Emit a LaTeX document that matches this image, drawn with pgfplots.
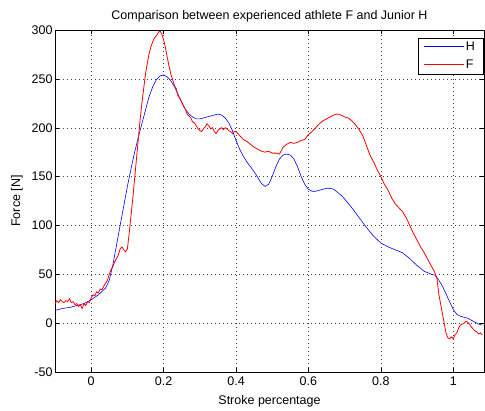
\documentclass[border=0pt]{standalone}
\usepackage{fontspec}
\setmainfont{Liberation Sans}
\usepackage{pgfplots}
\pgfplotsset{compat=1.18}

\pgfplotstableread{
x y
-0.10 13
-0.08 15
-0.06 16
-0.04 18
-0.02 20
0.00 24
0.02 29
0.04 36
0.05 44
0.06 60
0.07 80
0.08 100
0.09 120
0.10 140
0.11 158
0.12 175
0.13 190
0.14 204
0.15 218
0.16 232
0.17 242
0.18 249
0.19 253
0.20 254
0.21 252
0.22 248
0.23 242
0.24 234
0.25 226
0.26 219
0.27 214
0.28 211
0.29 209
0.30 209
0.31 210
0.32 211
0.33 212
0.34 213
0.35 214
0.36 213
0.37 210
0.38 205
0.39 197
0.40 187
0.41 178
0.42 171
0.43 165
0.44 160
0.45 155
0.46 149
0.47 143
0.48 140
0.49 142
0.50 150
0.51 160
0.52 168
0.53 172
0.54 173
0.55 172
0.56 168
0.57 160
0.58 150
0.59 142
0.60 137
0.61 135
0.62 135
0.63 136
0.64 137
0.65 138
0.66 138
0.67 137
0.68 134
0.69 131
0.70 127
0.72 118
0.74 108
0.76 98
0.78 89
0.80 82
0.82 78
0.84 75
0.86 72
0.88 66
0.90 59
0.92 53
0.94 50
0.95 49
0.96 44
0.97 38
0.98 30
0.99 22
1.00 14
1.01 9
1.02 7
1.03 6
1.04 5
1.05 3
1.06 1
1.07 -1
1.08 -2
}\athleteH

\pgfplotstableread{
x y
-0.100 20
-0.095 23
-0.090 21
-0.085 24
-0.080 22
-0.075 21
-0.070 23
-0.065 22
-0.060 25
-0.055 21
-0.050 22
-0.045 19
-0.040 20
-0.035 17
-0.030 19
-0.025 15
-0.020 20
-0.015 18
-0.010 22
-0.005 21
0.000 26
0.005 29
0.010 28
0.015 32
0.020 31
0.025 35
0.030 34
0.035 38
0.040 41
0.045 44
0.050 50
0.055 55
0.060 58
0.065 63
0.070 66
0.075 70
0.080 76
0.085 78
0.090 75
0.095 73
0.100 76
0.105 92
0.110 110
0.115 128
0.120 148
0.125 168
0.130 188
0.135 208
0.140 225
0.145 240
0.150 255
0.155 266
0.160 276
0.165 283
0.170 288
0.175 292
0.180 294
0.185 297
0.190 299
0.195 296
0.200 290
0.205 282
0.210 272
0.215 263
0.220 255
0.225 249
0.230 243
0.235 240
0.240 232
0.245 230
0.250 226
0.255 222
0.260 219
0.265 214
0.270 212
0.275 210
0.280 206
0.285 205
0.290 202
0.295 199
0.300 197
0.305 196
0.310 199
0.315 201
0.320 204
0.325 202
0.330 199
0.335 200
0.340 196
0.345 194
0.350 197
0.355 199
0.360 200
0.365 198
0.370 200
0.375 199
0.380 197
0.385 196
0.390 194
0.395 196
0.400 196
0.410 192
0.420 188
0.430 186
0.440 183
0.450 180
0.460 178
0.470 176
0.480 175
0.490 176
0.500 174
0.510 174
0.520 173
0.530 180
0.540 183
0.550 185
0.560 184
0.570 185
0.580 187
0.590 188
0.600 193
0.610 196
0.620 200
0.630 204
0.640 207
0.650 209
0.660 211
0.670 213
0.680 214
0.690 213
0.700 211
0.710 210
0.720 207
0.730 203
0.740 198
0.750 192
0.760 182
0.770 172
0.780 165
0.790 157
0.800 150
0.810 142
0.820 136
0.830 128
0.840 122
0.850 118
0.860 114
0.870 108
0.880 100
0.890 92
0.900 85
0.910 78
0.920 72
0.930 65
0.940 58
0.945 55
0.950 51
0.955 46
0.960 30
0.965 20
0.970 10
0.975 0
0.980 -10
0.985 -15
0.990 -16
0.995 -14
1.000 -16
1.005 -12
1.010 -10
1.015 -5
1.020 -2
1.025 -1
1.030 0
1.035 2
1.040 1
1.045 -1
1.050 -4
1.055 -6
1.060 -8
1.065 -9
1.070 -11
1.075 -10
1.080 -12
}\athleteF

\begin{document}
\begin{tikzpicture}
\begin{axis}[
  scale only axis, width=429pt, height=342pt,
  xmin=-0.1, xmax=1.085, ymin=-50, ymax=300,
  xtick={0,0.2,0.4,0.6,0.8,1}, ytick={-50,0,...,300},
  /pgf/number format/assume math mode=true,
  tick label style={font=\fontsize{12.5}{14}\selectfont},
  xticklabel style={yshift=-1pt},
  yticklabel style={xshift=1pt},
  label style={font=\fontsize{12.5}{14}\selectfont},
  title style={font=\fontsize{12.5}{14}\selectfont, yshift=-2pt},
  title={Comparison between experienced athlete F and Junior H},
  xlabel={Stroke percentage}, ylabel={Force [N]},
  xlabel style={yshift=-3pt}, ylabel style={yshift=2pt},
  tick align=inside, tick style={black, thin},
  major tick length=4pt,
  xtick pos=both, ytick pos=both,
  grid=major, grid style={black!75, dash pattern=on 0.8pt off 3.2pt},
  axis line style={black, thin},
  legend style={at={(1,1)}, anchor=north east, xshift=-1pt, yshift=-8pt,
    font=\fontsize{12.5}{14}\selectfont, inner xsep=6pt, inner ysep=2pt,
    row sep=4pt},
  legend cell align=left,
]
\addplot[color=blue, line width=0.6pt, forget plot] table {\athleteH};
\addplot[color=red, line width=0.8pt, forget plot] table {\athleteF};
\addlegendimage{legend image code/.code={\node[inner sep=0pt, anchor=west] at (0pt,0pt) {\textcolor{blue}{\rule[-0.3pt]{40pt}{0.6pt}}};}}
\addlegendentry{H}
\addlegendimage{legend image code/.code={\node[inner sep=0pt, anchor=west] at (0pt,0pt) {\textcolor{red}{\rule[-0.4pt]{40pt}{0.8pt}}};}}
\addlegendentry{F}
\end{axis}
\path ([xshift=-55pt,yshift=-39pt]current axis.south west) rectangle ([xshift=1pt,yshift=30pt]current axis.north east);
\end{tikzpicture}
\end{document}
